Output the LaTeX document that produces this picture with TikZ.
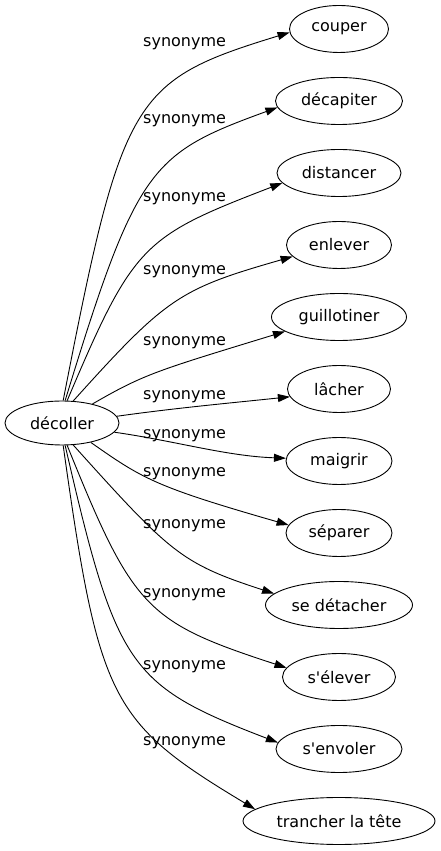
\documentclass[tikz,border=0pt]{standalone}
\usepackage{fontspec}
\newfontfamily\gvfont{DejaVu Sans}
\usetikzlibrary{shapes}
\usetikzlibrary{arrows.meta}
\tikzset{
  font={\gvfont\fontsize{16pt}{19}\selectfont}}

\begin{document}
\begin{tikzpicture}[x=1pt, y=1pt]

    \tikzset{edge/.style = {-{Triangle[length=12pt,width=8pt]}, line width=0.9pt}}
    \tikzset{mot/.style = {ellipse, draw=black, line width=0.9pt, inner sep=1pt, minimum height=47pt}}
    \tikzset{syn/.style = {anchor=base west, inner sep=0pt}}

    \useasboundingbox (0,0) rectangle (441,851);

    % vertices
    \node[mot, minimum width=114pt, minimum height=44pt] (dec) at (62,428) {décoller};
    \node[mot, minimum width=99pt] (cou) at (339,822) {couper};
    \node[mot, minimum width=127pt] (dca) at (339,750) {décapiter};
    \node[mot, minimum width=124pt] (dis) at (339,678) {distancer};
    \node[mot, minimum width=105pt] (enl) at (339,606) {enlever};
    \node[mot, minimum width=135pt] (gui) at (339,534) {guillotiner};
    \node[mot, minimum width=103pt] (lac) at (339,462) {lâcher};
    \node[mot, minimum width=106pt] (mai) at (339,390) {maigrir};
    \node[mot, minimum width=106pt] (sep) at (339,318) {séparer};
    \node[mot, minimum width=147pt] (det) at (339,246) {se détacher};
    \node[mot, minimum width=113pt] (ele) at (339,174) {s'élever};
    \node[mot, minimum width=126pt] (env) at (339,102) {s'envoler};
    \node[mot, minimum width=192pt] (tra) at (339,30) {trancher la tête};

    % labels
    \node[syn] (l1) at (143,804) {synonyme};
    \node[syn] (l2) at (143,727) {synonyme};
    \node[syn] (l3) at (143,649) {synonyme};
    \node[syn] (l4) at (143,576) {synonyme};
    \node[syn] (l5) at (143,505) {synonyme};
    \node[syn] (l6) at (143,451) {synonyme};
    \node[syn] (l7) at (143,412) {synonyme};
    \node[syn] (l8) at (143,374) {synonyme};
    \node[syn] (l9) at (143,322) {synonyme};
    \node[syn] (l10) at (143,253) {synonyme};
    \node[syn] (l11) at (143,181) {synonyme};
    \node[syn] (l12) at (143,105) {synonyme};

    % edges
    \draw[edge] (dec.87) .. controls +(79:310) and +(197:165) .. (cou.184);
    \draw[edge] (dec.82) .. controls +(73:245) and +(200:135) .. (dca.186);
    \draw[edge] (dec.77) .. controls +(67:170) and +(201:150) .. (dis.190);
    \draw[edge] (dec.63) .. controls +(48:140) and +(196:118) .. (enl.194);
    \draw[edge] (dec.32) .. controls +(30:60) and +(197:135) .. (gui.195);
    \draw[edge] (dec.7) .. controls +(8:60) and +(186:60) .. (lac.189);
    \draw[edge] (dec.-10) .. controls +(-8:60) and +(178:60) .. (mai.177);
    \draw[edge] (dec.-34) .. controls +(-35:63) and +(164:140) .. (sep.171);
    \draw[edge] (dec.-63) .. controls +(-48:146) and +(162:98) .. (det.170);
    \draw[edge] (dec.-77) .. controls +(-68:176) and +(162:148) .. (ele.170);
    \draw[edge] (dec.-82) .. controls +(-77:228) and +(159:160) .. (env.174);
    \draw[edge] (dec.-87) .. controls +(-82:258) and +(149:169) .. (tra.172);

\end{tikzpicture}
\end{document}
